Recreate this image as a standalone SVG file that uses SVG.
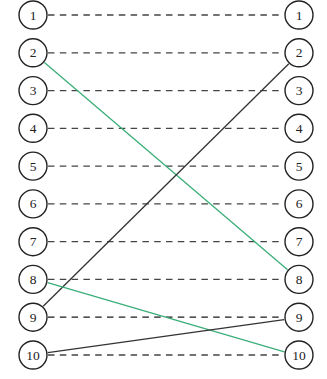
<svg xmlns="http://www.w3.org/2000/svg" width="327" height="379" viewBox="0 0 327 379">
<style>
.n circle{fill:#fff;stroke:#222;stroke-width:1.4}
.n text{font-family:"Liberation Serif","DejaVu Serif",serif;font-size:13.5px;fill:#222;text-anchor:middle;dominant-baseline:central}
.d{stroke:#444;stroke-width:1.3;stroke-dasharray:6.5 5.3;fill:none}
.dk{stroke:#1a1a1a}
.g{stroke:#3aae78;stroke-width:1.3;fill:none}
.b{stroke:#333;stroke-width:1.3;fill:none}
</style>
<rect width="327" height="379" fill="#fff"/>
<g id="connectors">
<line class="d" x1="48" y1="15" x2="284" y2="15"/>
<line class="d" x1="48" y1="52.8" x2="284" y2="52.8"/>
<line class="d" x1="48" y1="90.6" x2="284" y2="90.6"/>
<line class="d" x1="48" y1="128.3" x2="284" y2="128.3"/>
<line class="d" x1="48" y1="166.1" x2="284" y2="166.1"/>
<line class="d" x1="48" y1="203.9" x2="284" y2="203.9"/>
<line class="d" x1="48" y1="241.7" x2="284" y2="241.7"/>
<line class="d" x1="48" y1="279.4" x2="284" y2="279.4"/>
<line class="d dk" x1="48" y1="317.2" x2="284" y2="317.2"/>
<line class="d" x1="48" y1="355" x2="284" y2="355"/>
<line class="g" x1="44.4" y1="62.5" x2="287.6" y2="269.7"/>
<line class="b" x1="43.2" y1="306.2" x2="288.8" y2="63.8"/>
<line class="g" x1="47.6" y1="282.6" x2="284.4" y2="351.8"/>
<line class="b" x1="47.8" y1="352.6" x2="284.2" y2="319.6"/>
</g>
<g id="L1" class="n"><circle cx="33" cy="15" r="14"/><text x="33" y="15">1</text></g>
<g id="L2" class="n"><circle cx="33" cy="52.8" r="14"/><text x="33" y="52.8">2</text></g>
<g id="L3" class="n"><circle cx="33" cy="90.6" r="14"/><text x="33" y="90.6">3</text></g>
<g id="L4" class="n"><circle cx="33" cy="128.3" r="14"/><text x="33" y="128.3">4</text></g>
<g id="L5" class="n"><circle cx="33" cy="166.1" r="14"/><text x="33" y="166.1">5</text></g>
<g id="L6" class="n"><circle cx="33" cy="203.9" r="14"/><text x="33" y="203.9">6</text></g>
<g id="L7" class="n"><circle cx="33" cy="241.7" r="14"/><text x="33" y="241.7">7</text></g>
<g id="L8" class="n"><circle cx="33" cy="279.4" r="14"/><text x="33" y="279.4">8</text></g>
<g id="L9" class="n"><circle cx="33" cy="317.2" r="14"/><text x="33" y="317.2">9</text></g>
<g id="L10" class="n"><circle cx="33" cy="355" r="14"/><text x="33" y="355">10</text></g>
<g id="R1" class="n"><circle cx="299" cy="15" r="14"/><text x="299" y="15">1</text></g>
<g id="R2" class="n"><circle cx="299" cy="52.8" r="14"/><text x="299" y="52.8">2</text></g>
<g id="R3" class="n"><circle cx="299" cy="90.6" r="14"/><text x="299" y="90.6">3</text></g>
<g id="R4" class="n"><circle cx="299" cy="128.3" r="14"/><text x="299" y="128.3">4</text></g>
<g id="R5" class="n"><circle cx="299" cy="166.1" r="14"/><text x="299" y="166.1">5</text></g>
<g id="R6" class="n"><circle cx="299" cy="203.9" r="14"/><text x="299" y="203.9">6</text></g>
<g id="R7" class="n"><circle cx="299" cy="241.7" r="14"/><text x="299" y="241.7">7</text></g>
<g id="R8" class="n"><circle cx="299" cy="279.4" r="14"/><text x="299" y="279.4">8</text></g>
<g id="R9" class="n"><circle cx="299" cy="317.2" r="14"/><text x="299" y="317.2">9</text></g>
<g id="R10" class="n"><circle cx="299" cy="355" r="14"/><text x="299" y="355">10</text></g>
</svg>
